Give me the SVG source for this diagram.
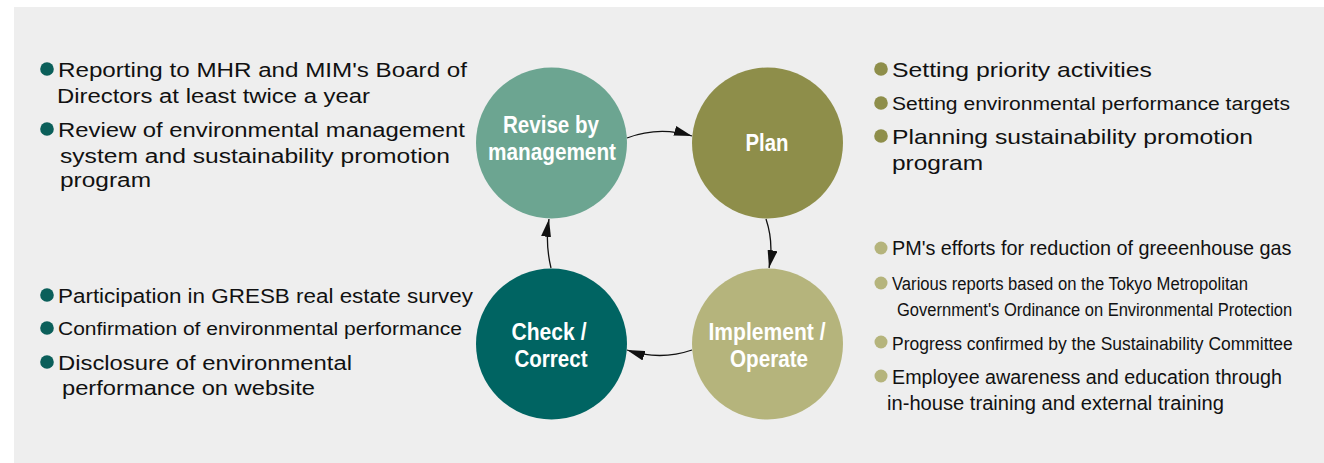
<svg xmlns="http://www.w3.org/2000/svg" width="1324" height="463" viewBox="0 0 1324 463">
<style>
.t{font-family:"Liberation Sans",Arial,sans-serif;fill:#111;}
.c{font-family:"Liberation Sans Narrow","Liberation Sans",Arial,sans-serif;fill:#111;}
.lbl{font-family:"Liberation Sans Narrow","Liberation Sans",Arial,sans-serif;font-weight:bold;fill:#fff;font-size:23px;}
.conn{fill:none;stroke:#111;stroke-width:1.3;}
</style>
<defs>
<marker id="ah" viewBox="0 0 18 10" refX="18" refY="5" markerWidth="18" markerHeight="10" markerUnits="userSpaceOnUse" orient="auto">
<path d="M0,0 L18,5 L0,10 Z" fill="#111"/>
</marker>
</defs>
<rect x="14" y="7" width="1310" height="456" fill="#eeeeee"/>

<g id="connectors">
<path class="conn" d="M627,138 Q659,126 692,136" marker-end="url(#ah)"/>
<path class="conn" d="M766,219 Q774,243 769,268" marker-end="url(#ah)"/>
<path class="conn" d="M692,350 Q660,361 627,350" marker-end="url(#ah)"/>
<path class="conn" d="M551,268 Q545,243 549,219" marker-end="url(#ah)"/>
</g>

<g id="node-revise">
<circle cx="551.5" cy="143" r="75.5" fill="#6ca591"/>
<text class="lbl" x="551" y="133" text-anchor="middle" textLength="96" lengthAdjust="spacingAndGlyphs">Revise by</text>
<text class="lbl" x="552" y="160" text-anchor="middle" textLength="128" lengthAdjust="spacingAndGlyphs">management</text>
</g>
<g id="node-plan">
<circle cx="767.5" cy="143" r="75.5" fill="#8e8e4a"/>
<text class="lbl" x="767" y="151" text-anchor="middle" textLength="43" lengthAdjust="spacingAndGlyphs">Plan</text>
</g>
<g id="node-implement">
<circle cx="767.5" cy="344" r="75.5" fill="#b5b47c"/>
<text class="lbl" x="767" y="340" text-anchor="middle" textLength="117" lengthAdjust="spacingAndGlyphs">Implement /</text>
<text class="lbl" x="769" y="367" text-anchor="middle" textLength="78" lengthAdjust="spacingAndGlyphs">Operate</text>
</g>
<g id="node-check">
<circle cx="551.5" cy="344" r="75.5" fill="#006462"/>
<text class="lbl" x="549" y="340" text-anchor="middle" textLength="75" lengthAdjust="spacingAndGlyphs">Check /</text>
<text class="lbl" x="551" y="367" text-anchor="middle" textLength="73" lengthAdjust="spacingAndGlyphs">Correct</text>
</g>

<g id="notes-revise">
<circle cx="47" cy="69" r="6.8" fill="#0b5f5a"/>
<text class="t" x="58" y="77" font-size="20" textLength="409" lengthAdjust="spacingAndGlyphs">Reporting to MHR and MIM's Board of</text>
<text class="t" x="57" y="103" font-size="20" textLength="313" lengthAdjust="spacingAndGlyphs">Directors at least twice a year</text>
<circle cx="47" cy="129" r="6.8" fill="#0b5f5a"/>
<text class="t" x="58" y="137" font-size="20" textLength="407" lengthAdjust="spacingAndGlyphs">Review of environmental management</text>
<text class="t" x="60" y="163" font-size="20" textLength="390" lengthAdjust="spacingAndGlyphs">system and sustainability promotion</text>
<text class="t" x="60" y="187" font-size="20" textLength="91" lengthAdjust="spacingAndGlyphs">program</text>
</g>

<g id="notes-check">
<circle cx="47" cy="295" r="6.8" fill="#0b5f5a"/>
<text class="t" x="58" y="303" font-size="20" textLength="415" lengthAdjust="spacingAndGlyphs">Participation in GRESB real estate survey</text>
<circle cx="47" cy="328" r="6.8" fill="#0b5f5a"/>
<text class="t" x="58" y="335" font-size="18" textLength="404" lengthAdjust="spacingAndGlyphs">Confirmation of environmental performance</text>
<circle cx="47" cy="362" r="6.8" fill="#0b5f5a"/>
<text class="t" x="58" y="370" font-size="20" textLength="294" lengthAdjust="spacingAndGlyphs">Disclosure of environmental</text>
<text class="t" x="62" y="395" font-size="20" textLength="253" lengthAdjust="spacingAndGlyphs">performance on website</text>
</g>

<g id="notes-plan">
<circle cx="881" cy="69" r="6.8" fill="#8e8e4a"/>
<text class="t" x="892" y="77" font-size="21" textLength="260" lengthAdjust="spacingAndGlyphs">Setting priority activities</text>
<circle cx="881" cy="103" r="6.8" fill="#8e8e4a"/>
<text class="t" x="892" y="110" font-size="18" textLength="398" lengthAdjust="spacingAndGlyphs">Setting environmental performance targets</text>
<circle cx="881" cy="136" r="6.8" fill="#8e8e4a"/>
<text class="t" x="892" y="144" font-size="21" textLength="361" lengthAdjust="spacingAndGlyphs">Planning sustainability promotion</text>
<text class="t" x="892" y="170" font-size="21" textLength="91" lengthAdjust="spacingAndGlyphs">program</text>
</g>

<g id="notes-implement">
<circle cx="881" cy="248" r="6.5" fill="#b5b47c"/>
<text class="c" transform="translate(892,255) scale(0.85,1)" font-size="20.5" textLength="470" lengthAdjust="spacingAndGlyphs">PM's efforts for reduction of greeenhouse gas</text>
<circle cx="881" cy="283" r="6.5" fill="#b5b47c"/>
<text class="c" transform="translate(892,290) scale(0.8,1)" font-size="19" textLength="445" lengthAdjust="spacingAndGlyphs">Various reports based on the Tokyo Metropolitan</text>
<text class="c" transform="translate(897,316) scale(0.8,1)" font-size="19" textLength="494" lengthAdjust="spacingAndGlyphs">Government's Ordinance on Environmental Protection</text>
<circle cx="881" cy="342" r="6.5" fill="#b5b47c"/>
<text class="c" transform="translate(892,350) scale(0.8,1)" font-size="19" textLength="501" lengthAdjust="spacingAndGlyphs">Progress confirmed by the Sustainability Committee</text>
<circle cx="881" cy="376" r="6.5" fill="#b5b47c"/>
<text class="t" x="892" y="384" font-size="20" textLength="390" lengthAdjust="spacingAndGlyphs">Employee awareness and education through</text>
<text class="t" x="887" y="410" font-size="20" textLength="337" lengthAdjust="spacingAndGlyphs">in-house training and external training</text>
</g>
</svg>
